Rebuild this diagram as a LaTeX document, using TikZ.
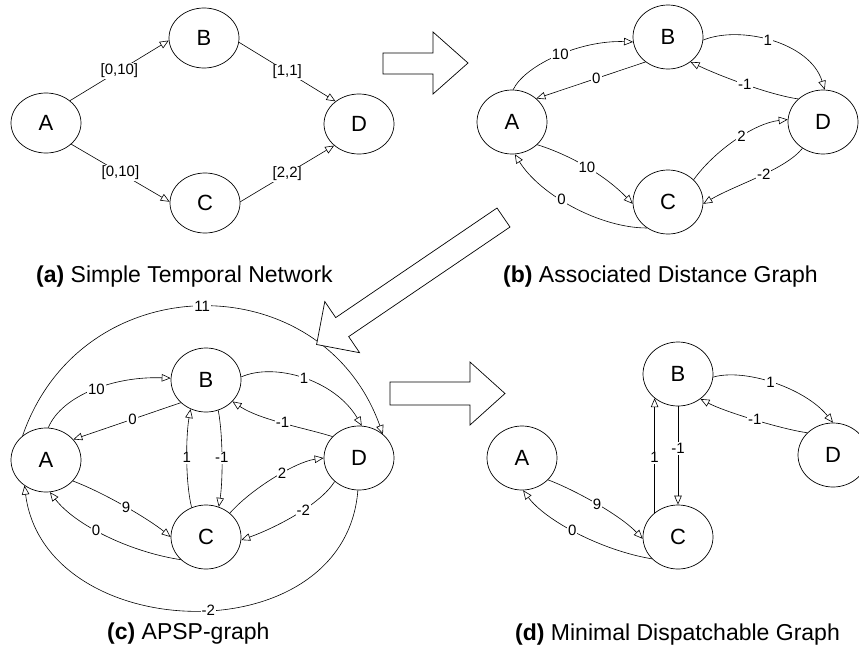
\documentclass[tikz,border=0pt]{standalone}
\usepackage{fontspec}
\setmainfont{Liberation Sans}
\usetikzlibrary{arrows.meta,shapes.geometric}
\begin{document}
\begin{tikzpicture}[x=1pt,y=-1pt,
  vert/.style={draw, ellipse, line width=0.7pt, minimum width=70pt, minimum height=64pt,
               inner sep=0pt, font=\fontsize{22}{26}\selectfont},
  flat/.style={vert, minimum height=60pt},
  link/.style={line width=0.6pt, -{Triangle[open, length=9pt, width=7.5pt]}},
  wt/.style={fill=white, inner sep=1pt, font=\fontsize{15}{17}\selectfont},
  caption/.style={anchor=base west, inner sep=0pt, font=\fontsize{23}{27}\selectfont},
  bigarrow/.style={draw, fill=white, line width=0.7pt, line join=miter}]
\clip (0,0) rectangle (859,653);

% ---------------- (a) simple temporal network ----------------
\node[flat] (aA) at (46,123) {A};
\node[flat] (aB) at (204,38) {B};
\node[flat] (aC) at (205,203) {C};
\node[flat] (aD) at (359,124) {D};
\draw[link] (aA.43) -- node[wt] {[0,10]} (aB.184);
\draw[link] (aB.353) -- node[wt] {[1,1]} (aD.136);
\draw[link] (aA.320) -- node[wt] {[0,10]} (aC.178);
\draw[link] (aC.2) -- node[wt] {[2,2]} (aD.221);

% ---------------- (b) distance graph ----------------
\node[vert] (bA) at (512,122) {A};
\node[vert] (bB) at (668,37) {B};
\node[vert] (bC) at (668,202) {C};
\node[vert] (bD) at (823,122) {D};
\draw[link] (bA.88) .. controls (525,65) and (580,40) .. node[wt, pos=0.52] {10} (bB.188);
\draw[link] (bB.228) -- node[wt, pos=0.45] {0} (bA.44);
\draw[link] (bB.355) .. controls (740,25) and (810,42) .. node[wt, pos=0.47] {1} (bD.87);
\draw[link] (bD.137) .. controls (770,95) and (720,76) .. node[wt, pos=0.5] {-1} (bB.312);
\draw[link] (bC.41) .. controls (715,150) and (755,123) .. node[wt, pos=0.55] {2} (bD.176);
\draw[link] (bD.232) .. controls (785,170) and (735,185) .. node[wt, pos=0.45] {-2} (bC.357);
\draw[link] (bA.318) .. controls (570,155) and (605,175) .. node[wt, pos=0.5] {10} (bC.183);
\draw[link] (bC.231) .. controls (600,228) and (540,195) .. node[wt, pos=0.58] {0} (bA.275);

% ---------------- (c) APSP graph ----------------
\node[vert] (cA) at (46,460) {A};
\node[vert] (cB) at (206,380) {B};
\node[vert] (cC) at (206,537) {C};
\node[vert] (cD) at (359,458) {D};
\draw[link] (cA.134) .. controls (82,264) and (322,264) .. node[wt, pos=0.5] {11} (cD.45);
\draw[link] (cD.268) .. controls (345,656) and (45,646) .. node[wt, pos=0.47] {-2} (cA.230);
\draw[link] (cA.86) .. controls (62,395) and (115,376) .. node[wt, pos=0.52] {10} (cB.177);
\draw[link] (cB.222) -- node[wt, pos=0.45] {0} (cA.37);
\draw[link] (cB.5) .. controls (275,362) and (335,380) .. node[wt, pos=0.5] {1} (cD.85);
\draw[link] (cD.141) .. controls (305,428) and (260,420) .. node[wt, pos=0.5] {-1} (cB.321);
\draw[link] (cC.116) .. controls (185,480) and (186,435) .. node[wt, pos=0.5] {1} (cB.242);
\draw[link] (cB.292) .. controls (223,435) and (223,480) .. node[wt, pos=0.5] {-1} (cC.67);
\draw[link] (cA.322) .. controls (105,493) and (150,520) .. node[wt, pos=0.5] {9} (cC.180);
\draw[link] (cC.222) .. controls (130,552) and (75,525) .. node[wt, pos=0.57] {0} (cA.277);
\draw[link] (cC.45) .. controls (250,490) and (295,462) .. node[wt, pos=0.58] {2} (cD.180);
\draw[link] (cD.224) .. controls (320,505) and (275,528) .. node[wt, pos=0.42] {-2} (cC.355);

% ---------------- (d) minimal dispatchable graph ----------------
\node[vert] (dA) at (522,458) {A};
\node[vert] (dB) at (678,374) {B};
\node[vert] (dC) at (678,537) {C};
\node[vert] (dD) at (833,455) {D};
\draw[link] (dB.355) .. controls (745,368) and (805,388) .. node[wt, pos=0.47] {1} (dD.90);
\draw[link] (dD.139) .. controls (785,430) and (725,412) .. node[wt, pos=0.5] {-1} (dB.312);
\draw[link] (dC.134) -- node[wt, pos=0.48] {1} (dB.226);
\draw[link] (dB.270) -- node[wt, pos=0.43] {-1} (dC.90);
\draw[link] (dA.320) .. controls (575,490) and (620,515) .. node[wt, pos=0.5] {9} (dC.183);
\draw[link] (dC.220) .. controls (600,550) and (545,520) .. node[wt, pos=0.53] {0} (dA.272);

% ---------------- block arrows between the panels ----------------
\draw[bigarrow] (383,53) -- (433,53) -- (433,32) -- (468,63) -- (433,94) -- (433,74) -- (383,74) -- cycle;
\draw[bigarrow] (497.0,208.0) -- (335.7,317.6) -- (324.8,301.5) -- (316.6,344.5)
  -- (359.6,352.7) -- (348.7,336.6) -- (510.0,227.0) -- cycle;
\draw[bigarrow] (390,382) -- (470,382) -- (470,362) -- (505,393.5) -- (470,425) -- (470,405) -- (390,405) -- cycle;

% ---------------- captions ----------------
\node[caption] (capa) at (36,282) {\textbf{(a)} Simple Temporal Network};
\node[caption] (capb) at (503,282) {\textbf{(b)} Associated Distance Graph};
\node[caption] (capc) at (107,639) {\textbf{(c)} APSP-graph};
\node[caption] (capd) at (515,640) {\textbf{(d)} Minimal Dispatchable Graph};
\end{tikzpicture}
\end{document}
